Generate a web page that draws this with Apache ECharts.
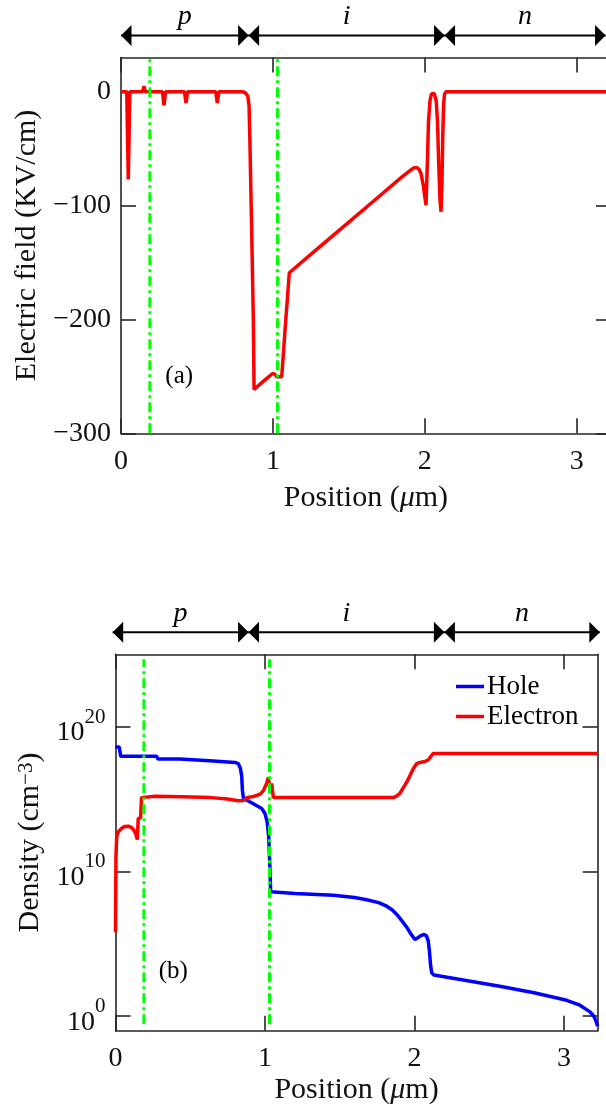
<!DOCTYPE html>
<html><head><meta charset="utf-8">
<script src="https://cdn.jsdelivr.net/npm/echarts@6/dist/echarts.min.js"></script>
<style>html,body{margin:0;padding:0;background:#fff}#c{width:606px;height:1110px}</style>
</head><body><div id="c"></div>
<script>
// ---------- data ----------
// (a) Electric field (kV/cm) vs position (um)
const fieldX = [0, 0.038, 0.043, 0.048, 0.053, 0.058,
  0.14, 0.146, 0.151, 0.156, 0.162,
  0.273, 0.278, 0.283, 0.288, 0.293,
  0.418, 0.423, 0.428, 0.433, 0.438,
  0.624, 0.629, 0.634, 0.639, 0.644,
  0.80, 0.82, 0.835, 0.843, 0.848, 0.86, 0.871, 0.876,
  0.94, 0.998, 1.012, 1.025, 1.058, 1.08, 1.108,
  1.3, 1.5, 1.7, 1.85, 1.9, 1.925, 1.946, 1.962, 1.975, 1.99, 2.0, 2.008,
  2.017, 2.024, 2.034, 2.043, 2.052, 2.062, 2.075, 2.083, 2.092, 2.1, 2.107,
  2.113, 2.118, 2.124, 2.13, 2.14, 2.6, 3.225];
const fieldY = [0, 0, -40, -77, -40, 0,
  0, 2, 5, 2, 0,
  0, -6, -12, -6, 0,
  0, -5, -10, -5, 0,
  0, -5, -10, -5, 0,
  0, -1, -4, -12, -40, -120, -200, -261.5,
  -254, -247.5, -248, -250.4, -250.4, -209, -159,
  -137.2, -114.5, -91.8, -74.8, -69.5, -67, -66.6, -68, -72, -82, -92.3, -99.6,
  -61, -27, -8, -2, -0.5, -1.5, -8, -25, -65, -95, -105.4,
  -80, -40, -10, -2, 0, 0, 0];

// (b) carrier densities, stored as log10(density / cm^-3)
const holeX = [0, 0.025, 0.035, 0.275, 0.285, 0.43, 0.44, 0.63, 0.64,
  0.80, 0.822, 0.836, 0.844, 0.849, 0.856, 0.91, 0.978, 1.0, 1.015, 1.025, 1.032, 1.038, 1.045,
  1.2, 1.457, 1.6, 1.68, 1.76, 1.814, 1.85, 1.88, 1.915, 1.948, 1.975, 2.003, 2.02, 2.04, 2.065,
  2.08, 2.092, 2.1, 2.108, 2.115, 2.13, 2.57, 2.8, 3.018, 3.107, 3.174, 3.2, 3.215, 3.225];
const holeLog10 = [18.6, 18.6, 17.95, 17.95, 17.76, 17.76, 17.64, 17.64, 17.53,
  17.53, 17.45, 17.1, 16.6, 15.6, 15.05, 14.75, 14.35, 14.0, 13.4, 12.4, 10.5, 8.6, 8.52,
  8.48, 8.36, 8.2, 8.05, 7.85, 7.6, 7.35, 7.05, 6.6, 6.15, 5.7, 5.3, 5.4, 5.55, 5.65,
  5.55, 5.2, 4.5, 3.5, 3.0, 2.85, 2.07, 1.62, 1.1, 0.76, 0.3, 0.0, -0.35, -0.7];
const elecX = [0, 0.003, 0.008, 0.019, 0.04, 0.06, 0.086, 0.105, 0.12, 0.135, 0.146, 0.152, 0.168, 0.174,
  0.264, 0.44, 0.64, 0.75, 0.82, 0.855, 0.88, 0.93, 0.97, 0.99, 1.011, 1.022, 1.033, 1.04, 1.045, 1.05, 1.056,
  1.5, 1.858, 1.88, 1.903, 1.95, 1.992, 2.015, 2.037, 2.07, 2.092, 2.11, 2.126, 3.225];
const elecLog10 = [5.8, 11.0, 12.4, 12.74, 12.97, 13.1, 13.13, 13.05, 12.9, 12.6, 12.2, 13.66, 13.7, 15.1,
  15.2, 15.16, 15.1, 15.0, 14.88, 14.9, 15.1, 15.2, 15.35, 15.6, 16.08, 16.5, 15.75, 15.9, 16.08, 15.6, 15.1,
  15.1, 15.1, 15.2, 15.4, 16.2, 17.1, 17.45, 17.53, 17.6, 17.7, 17.95, 18.15, 18.15];

// axes / ticks
const xTicks = [0, 1, 2, 3];
const fieldTicks = [-300, -200, -100, 0];
const densityTicks = [0, 10, 20];   // exponents: 10^0, 10^10, 10^20
// guides, regions, panel labels
const guideX = [0.19, 1.03];
const guideRangeTop = [-300, 30];
const guideRangeBottom = [-0.55, 24.65];
const regionNames = ['p', 'i', 'n'];
const regionEdgesTop = [0, 0.84, 2.13, 3.19];
const regionEdgesBottom = [-0.019, 0.89, 2.2, 3.24];
const panelLabelA = [0.383, -249.8];
const panelLabelB = [0.387, 3.06];

// ---------- chart ----------
const chart = echarts.init(document.getElementById('c'), null, {renderer: 'canvas', width: 606, height: 1110});
const FONT = '"Liberation Serif","Times New Roman",Times,serif';
const AXC = '#262626';
const TXT = '#111';
const TICK_FS = 28, TITLE_FS = 30;

function mkX(gi, pos, xmax, showLabel, name, nameGap) {
  return {
    type: 'value', gridIndex: gi, position: pos, min: 0, max: xmax,
    axisLine: {show: true, onZero: false, lineStyle: {color: AXC, width: 1.6}},
    axisTick: {show: true, inside: true, length: 15, customValues: xTicks, lineStyle: {color: AXC, width: 1.6}},
    axisLabel: {show: showLabel, customValues: xTicks, fontFamily: FONT, fontSize: TICK_FS, color: TXT, margin: 14},
    splitLine: {show: false},
    name: name || '', nameLocation: 'middle', nameGap: nameGap || 0,
    nameTextStyle: {fontFamily: FONT, fontSize: TITLE_FS, color: TXT,
      rich: {n: {fontFamily: FONT, fontSize: TITLE_FS, color: TXT},
             u: {fontFamily: FONT, fontSize: TITLE_FS, color: TXT, fontStyle: 'italic'}}}
  };
}
function mkY(gi, pos, min, max, ticks, showLabel, fmt, name, nameGap, rich) {
  return {
    type: 'value', gridIndex: gi, position: pos, min: min, max: max,
    axisLine: {show: true, onZero: false, lineStyle: {color: AXC, width: 1.6}},
    axisTick: {show: true, inside: true, length: 15, customValues: ticks, lineStyle: {color: AXC, width: 1.6}},
    axisLabel: {show: showLabel, customValues: ticks, fontFamily: FONT, fontSize: TICK_FS, color: TXT, margin: 10,
      formatter: fmt, rich: rich},
    splitLine: {show: false},
    name: name || '', nameLocation: 'middle', nameGap: nameGap || 0, nameRotate: 90,
    nameTextStyle: {fontFamily: FONT, fontSize: TITLE_FS, color: TXT,
      rich: {n: {fontFamily: FONT, fontSize: TITLE_FS, color: TXT},
             s: {fontFamily: FONT, fontSize: 21, color: TXT, verticalAlign: 'top', lineHeight: 24}}}
  };
}
const minusFmt = v => (v < 0 ? '\u2212' + Math.abs(v) : String(v));
const powFmt = v => '{b|10}{s|' + v + '}';
const powRich = {
  b: {fontFamily: FONT, fontSize: TICK_FS, color: TXT, lineHeight: 40, verticalAlign: 'bottom'},
  s: {fontFamily: FONT, fontSize: 21, color: TXT, lineHeight: 40, verticalAlign: 'top'}
};

const XMAX = 3.225;
const guideStyle = {color: '#00ff00', width: 3, type: [10, 4, 3, 4]};

const series = [
  {type: 'line', name: 'Field', xAxisIndex: 0, yAxisIndex: 0, showSymbol: false, symbol: 'none',
   lineStyle: {color: '#ff0000', width: 3.5}, data: fieldX.map((x, i) => [x, fieldY[i]]), z: 3},
  {type: 'line', name: 'Hole', xAxisIndex: 2, yAxisIndex: 2, showSymbol: false, symbol: 'none',
   itemStyle: {color: '#0000ff'}, lineStyle: {color: '#0000ff', width: 3.5},
   data: holeX.map((x, i) => [x, holeLog10[i]]), z: 3},
  {type: 'line', name: 'Electron', xAxisIndex: 2, yAxisIndex: 2, showSymbol: false, symbol: 'none',
   itemStyle: {color: '#ff0000'}, lineStyle: {color: '#ff0000', width: 3.5},
   data: elecX.map((x, i) => [x, elecLog10[i]]), z: 3},
];
guideX.forEach(gx => {
  series.push({type: 'line', xAxisIndex: 0, yAxisIndex: 0, showSymbol: false, symbol: 'none', silent: true,
    lineStyle: guideStyle, data: [[gx, guideRangeTop[0]], [gx, guideRangeTop[1]]], z: 5});
  series.push({type: 'line', xAxisIndex: 2, yAxisIndex: 2, showSymbol: false, symbol: 'none', silent: true,
    lineStyle: guideStyle, data: [[gx, guideRangeBottom[0]], [gx, guideRangeBottom[1]]], z: 5});
});
const panelLabel = (xi, yi, pos, txt) => ({
  type: 'scatter', xAxisIndex: xi, yAxisIndex: yi, symbolSize: 2, silent: true, z: 6,
  itemStyle: {color: 'rgba(255,255,255,0)'}, data: [pos],
  label: {show: true, position: 'inside', formatter: txt, fontFamily: FONT, fontSize: 25, color: '#000', opacity: 1}
});
series.push(panelLabel(0, 0, panelLabelA, '(a)'));
series.push(panelLabel(2, 2, panelLabelB, '(b)'));

const option = {
  animation: false,
  backgroundColor: '#fff',
  grid: [
    {left: 121, top: 57.6, width: 489.9, height: 375.7, containLabel: false, outerBoundsMode: 'none'},
    {left: 115.5, top: 654.3, width: 482.1, height: 376.4, containLabel: false, outerBoundsMode: 'none'}
  ],
  xAxis: [
    mkX(0, 'bottom', XMAX, true, '{n|Position (}{u|\u03bc}{n|m)}', 50),
    mkX(0, 'top', XMAX, false),
    mkX(1, 'bottom', XMAX, true, '{n|Position (}{u|\u03bc}{n|m)}', 44),
    mkX(1, 'top', XMAX, false)
  ],
  yAxis: [
    mkY(0, 'left', -300, 30, fieldTicks, true, minusFmt, 'Electric field (KV/cm)', 68),
    mkY(0, 'right', -300, 30, fieldTicks, false),
    mkY(1, 'left', -1, 25, densityTicks, true, powFmt, '{n|Density (cm}{s|\u22123}{n|)}', 66, powRich),
    mkY(1, 'right', -1, 25, densityTicks, false)
  ],
  legend: {
    data: ['Hole', 'Electron'], orient: 'vertical', left: 456, top: 673, padding: 0,
    itemGap: 3, itemWidth: 28, itemHeight: 3.5, icon: 'rect',
    textStyle: {fontFamily: FONT, fontSize: 27, color: '#000', lineHeight: 27, padding: [0, 0, 0, -2]}
  },
  series: series
};
chart.setOption(option);

// region arrows (p / i / n) above each panel
function regionGraphics(xAxisIdx, edges, gridTopPx) {
  const els = [];
  const px = edges.map(e => chart.convertToPixel({xAxisIndex: xAxisIdx}, e));
  const y = gridTopPx - 22;
  els.push({type: 'line', shape: {x1: px[0], y1: y, x2: px[px.length - 1], y2: y},
            style: {stroke: '#000', lineWidth: 2}});
  const head = (tip, dir) => ({type: 'polygon',
    shape: {points: [[tip, y], [tip - dir * 10.5, y - 10.5], [tip - dir * 10.5, y + 10.5]]},
    style: {fill: '#000'}});
  for (let i = 0; i < px.length - 1; i++) {
    els.push(head(px[i], -1));
    els.push(head(px[i + 1], 1));
    els.push({type: 'text', style: {text: regionNames[i], x: (px[i] + px[i + 1]) / 2, y: y - 19,
      align: 'center', verticalAlign: 'middle', fontFamily: FONT, fontSize: 28, fontStyle: 'italic', fill: '#000'}});
  }
  return els;
}
const g = [].concat(
  regionGraphics(0, regionEdgesTop, 57.6),
  regionGraphics(2, regionEdgesBottom, 654.3)
);
chart.setOption({graphic: {elements: g}});
</script>
</body></html>
